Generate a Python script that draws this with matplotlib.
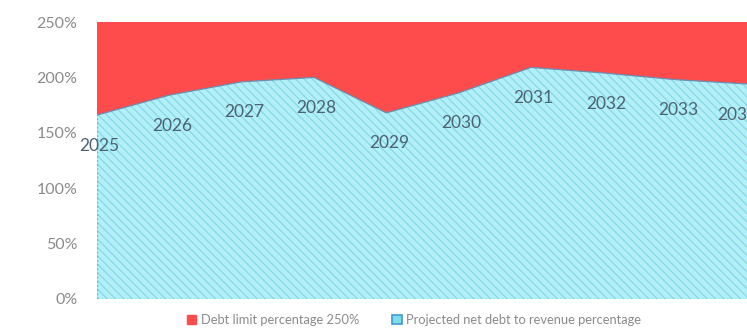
import matplotlib
matplotlib.use("Agg")
import matplotlib.pyplot as plt
from matplotlib.patches import Patch

# Data
years = ["2025", "2026", "2027", "2028", "2029", "2030", "2031", "2032", "2033", "2034"]
net_debt_pct = [166, 184, 196, 200, 168, 186, 209, 204, 198, 194]
debt_limit_pct = [250] * len(years)

plt.rcParams['font.family'] = ['Lato', 'DejaVu Sans']
plt.rcParams['hatch.linewidth'] = 0.8

RED = '#fe4b4b'
CYAN = '#b3eff7'
HATCH = '#80d8e6'

fig = plt.figure(figsize=(7.47, 3.3), dpi=100)
ax = fig.add_axes([97 / 747, 31 / 330, 651 / 747, 277 / 330])

x = list(range(len(years)))

# debt limit area behind, projected area in front
ax.fill_between(x, 0, debt_limit_pct, color=RED, linewidth=0, zorder=1)
ax.fill_between(x, 0, net_debt_pct, facecolor=CYAN, edgecolor=HATCH,
                hatch='\\\\\\\\', linewidth=0, zorder=2)
ax.plot(x, net_debt_pct, color='#6a8fb0', lw=0.9, zorder=3)
ax.plot([0, 0], [0, net_debt_pct[0]], color='#55c2da', lw=1, ls=(0, (1.5, 1.5)), zorder=3)
ax.plot([0, x[-1]], [0, 0], color='#55c2da', lw=1, ls=(0, (1.5, 1.5)), zorder=3)

# year labels under each point (last one sits at the cut right edge)
for xi, yi, lab in zip(x, net_debt_pct, years):
    dx = -8 if lab == years[-1] else 2
    ax.annotate(lab, (xi, yi), xytext=(dx, -22), textcoords='offset points',
                ha='center', va='center', fontsize=12.5, color='#4d6272', zorder=4)

ax.set_xlim(0, 9)
ax.set_ylim(0, 250)
ax.set_yticks([0, 50, 100, 150, 200, 250])
ax.set_yticklabels(['0%', '50%', '100%', '150%', '200%', '250%'])
ax.tick_params(axis='y', length=0, pad=14, labelsize=11.5, labelcolor='#8a8a8a')
ax.set_xticks([])
for s in ax.spines.values():
    s.set_visible(False)

handles = [Patch(facecolor=RED, edgecolor=RED),
           Patch(facecolor='#7fdcec', edgecolor='#3f9ad0', linewidth=1.2)]
labels = ['Debt limit percentage 250%', 'Projected net debt to revenue percentage']
fig.legend(handles, labels, loc='center', bbox_to_anchor=(414 / 747, 10 / 330),
           ncol=2, frameon=False, fontsize=9.3, labelcolor='#8a8a8a',
           handlelength=0.7, handleheight=0.7, handletextpad=0.35, columnspacing=2.6)

plt.savefig("out.png", dpi=100)
